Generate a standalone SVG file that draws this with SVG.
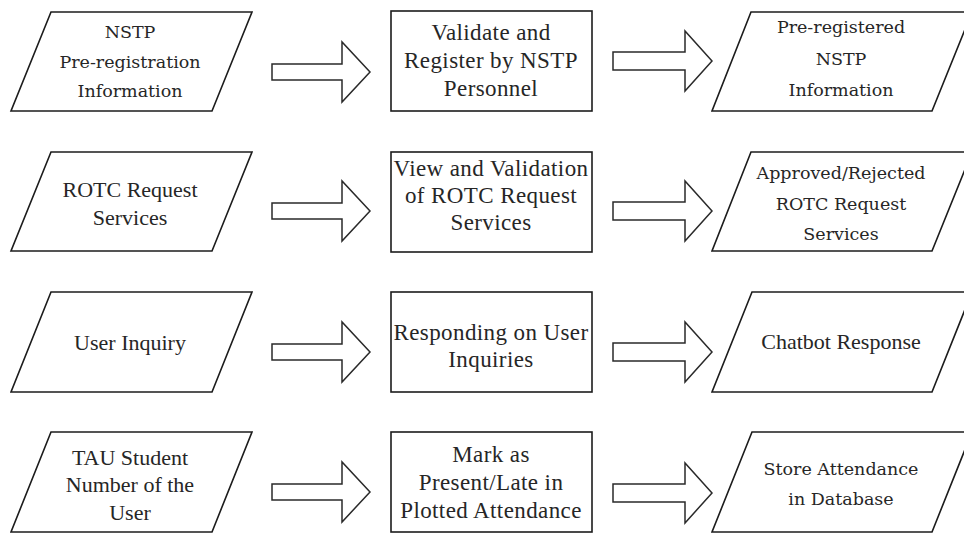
<svg xmlns="http://www.w3.org/2000/svg" width="964" height="533" viewBox="0 0 964 533">
<style>
.shape{fill:#fff;stroke:#1c1c1c;stroke-width:1.6}
.arrow{fill:#fff;stroke:#2a2a2a;stroke-width:1.5;stroke-linejoin:miter}
.cam{font-family:'DejaVu Serif',serif;font-size:17.5px;fill:#262626;text-anchor:middle}
.tms{font-family:'Liberation Serif','Times New Roman',serif;font-size:22px;fill:#262626;text-anchor:middle}
.mid{font-family:'Liberation Serif','Times New Roman',serif;font-size:23px;letter-spacing:0.4px;fill:#262626;text-anchor:middle}
</style>
<rect width="964" height="533" fill="#fff"/>
<g id="connectors">
<path class="arrow" transform="translate(272,72)" d="M0,-8 H70 V-30 L98,0 L70,30 V8 H0 Z"/>
<path class="arrow" transform="translate(613,61)" d="M0,-9 H72 V-30 L99,0 L72,30 V9 H0 Z"/>
<path class="arrow" transform="translate(272,211)" d="M0,-8 H70 V-30 L98,0 L70,30 V8 H0 Z"/>
<path class="arrow" transform="translate(613,211)" d="M0,-9 H72 V-30 L99,0 L72,30 V9 H0 Z"/>
<path class="arrow" transform="translate(272,352)" d="M0,-8 H70 V-30 L98,0 L70,30 V8 H0 Z"/>
<path class="arrow" transform="translate(613,352)" d="M0,-9 H72 V-30 L99,0 L72,30 V9 H0 Z"/>
<path class="arrow" transform="translate(272,492)" d="M0,-8 H70 V-30 L98,0 L70,30 V8 H0 Z"/>
<path class="arrow" transform="translate(613,493)" d="M0,-9 H72 V-30 L99,0 L72,30 V9 H0 Z"/>
</g>
<g id="in1"><path class="shape" d="M51,12 H252 L212,111 H11 Z"/>
<text class="cam" x="130" y="38">NSTP</text><text class="cam" x="130" y="68">Pre-registration</text><text class="cam" x="130" y="97">Information</text></g>
<g id="p1"><rect class="shape" x="391" y="11" width="201" height="100"/>
<text class="mid" x="491" y="40">Validate and</text><text class="mid" x="491" y="68">Register by NSTP</text><text class="mid" x="491" y="96">Personnel</text></g>
<g id="out1"><path class="shape" d="M751,12 H972 L932,111 H712 Z"/>
<text class="cam" x="841" y="33">Pre-registered</text><text class="cam" x="841" y="65">NSTP</text><text class="cam" x="841" y="96">Information</text></g>

<g id="in2"><path class="shape" d="M51,152 H252 L212,251 H11 Z"/>
<text class="tms" x="130" y="197">ROTC Request</text><text class="tms" x="130" y="225">Services</text></g>
<g id="p2"><rect class="shape" x="391" y="152" width="201" height="100"/>
<text class="mid" x="491" y="176">View and Validation</text><text class="mid" x="491" y="203">of ROTC Request</text><text class="mid" x="491" y="230">Services</text></g>
<g id="out2"><path class="shape" d="M751,152 H972 L932,251 H712 Z"/>
<text class="cam" x="841" y="179">Approved/Rejected</text><text class="cam" x="841" y="210">ROTC Request</text><text class="cam" x="841" y="240">Services</text></g>

<g id="in3"><path class="shape" d="M51,292 H252 L212,392 H11 Z"/>
<text class="tms" x="130" y="350">User Inquiry</text></g>
<g id="p3"><rect class="shape" x="391" y="292" width="201" height="100"/>
<text class="mid" x="491" y="340">Responding on User</text><text class="mid" x="491" y="367">Inquiries</text></g>
<g id="out3"><path class="shape" d="M752,292 H972 L932,392 H712 Z"/>
<text class="tms" x="841" y="349">Chatbot Response</text></g>

<g id="in4"><path class="shape" d="M51,432 H252 L212,532 H11 Z"/>
<text class="tms" x="130" y="465">TAU Student</text><text class="tms" x="130" y="492">Number of the</text><text class="tms" x="130" y="520">User</text></g>
<g id="p4"><rect class="shape" x="391" y="432" width="201" height="100"/>
<text class="mid" x="491" y="462">Mark as</text><text class="mid" x="491" y="490">Present/Late in</text><text class="mid" x="491" y="518">Plotted Attendance</text></g>
<g id="out4"><path class="shape" d="M752,432 H972 L932,532 H712 Z"/>
<text class="cam" x="841" y="475">Store Attendance</text><text class="cam" x="841" y="505">in Database</text></g>
</svg>
